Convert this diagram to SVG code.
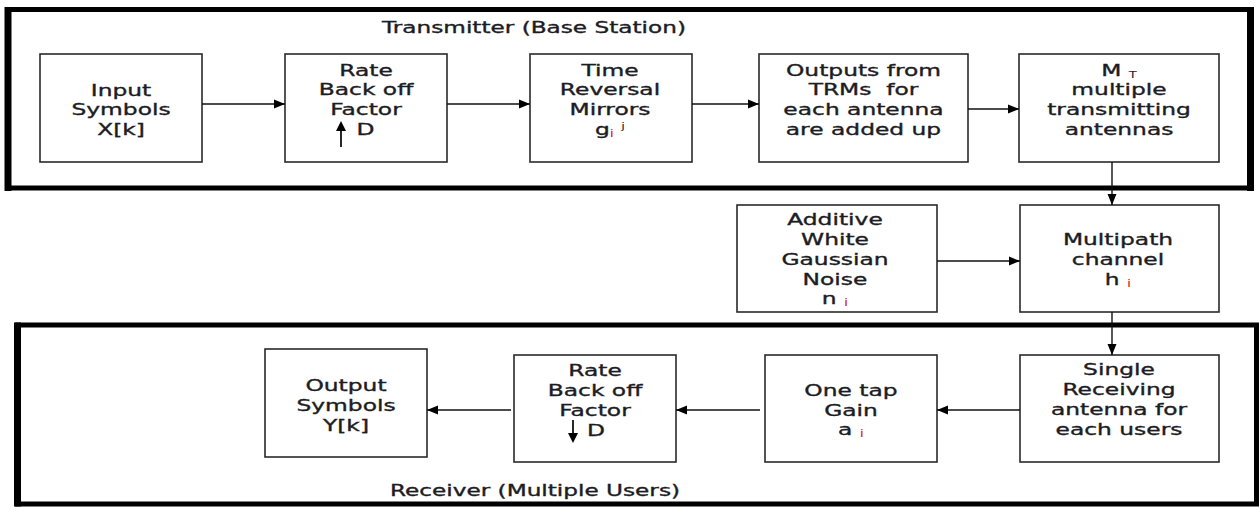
<svg xmlns="http://www.w3.org/2000/svg" width="1260" height="507" viewBox="0 0 1260 507">
<style>
.frame{fill:none;stroke:#000;stroke-width:5}
.side{stroke:#000;stroke-width:7}
.box{fill:#fff;stroke:#2a2a2a;stroke-width:1.6}
.t{font-family:"DejaVu Sans","Verdana",sans-serif;font-size:16px;fill:#1c1c24;stroke:#1c1c24;stroke-width:0.35;text-anchor:middle}
.sub{font-size:10px;fill:#d42020;stroke:none}
.sup{font-size:9px;fill:#1c1c24;stroke:none}
.c{stroke:#111;stroke-width:1.4;fill:none;marker-end:url(#ah)}
</style>
<defs>
<marker id="ah" markerUnits="userSpaceOnUse" markerWidth="12" markerHeight="10" refX="11" refY="5" orient="auto">
<path d="M0,0.5 L11,5 L0,9.5 z" fill="#000"/>
</marker>
</defs>
<rect width="1260" height="507" fill="#fff"/>

<g id="transmitter">
<rect class="frame" x="8" y="9.5" width="1242.5" height="178.5"/>
<line class="side" x1="8" y1="7" x2="8" y2="191"/>
<line class="side" x1="1250.5" y1="7" x2="1250.5" y2="191"/>
<text class="t" transform="translate(534,0) scale(1.45,1)"><tspan x="0" y="33">Transmitter (Base Station)</tspan></text>
</g>

<g id="receiver">
<rect class="frame" x="17.5" y="325" width="1239" height="179"/>
<line class="side" x1="17.5" y1="322.5" x2="17.5" y2="506.5"/>
<text class="t" transform="translate(535,0) scale(1.45,1)"><tspan x="0" y="496">Receiver (Multiple Users)</tspan></text>
</g>

<g id="input-symbols">
<rect class="box" x="40" y="54" width="162" height="108"/>
<text class="t" transform="translate(121,0) scale(1.46,1)"><tspan x="0" y="96">Input</tspan><tspan x="0" y="115">Symbols</tspan><tspan x="0" y="135">X[k]</tspan></text>
</g>

<g id="rate-backoff-tx">
<rect class="box" x="285" y="54" width="162" height="108"/>
<text class="t" transform="translate(366,0) scale(1.46,1)"><tspan x="0" y="76">Rate</tspan><tspan x="0" y="95">Back off</tspan><tspan x="0" y="115">Factor</tspan></text>
<line x1="341" y1="147" x2="341" y2="128" stroke="#111" stroke-width="1.8"/>
<path d="M336,131 L341,121 L346,131 z" fill="#000"/>
<text class="t" transform="translate(365.5,0) scale(1.46,1)"><tspan x="0" y="135">D</tspan></text>
</g>

<g id="trm">
<rect class="box" x="530" y="54" width="162" height="108"/>
<text class="t" transform="translate(610,0) scale(1.46,1)"><tspan x="0" y="76">Time</tspan><tspan x="0" y="95">Reversal</tspan><tspan x="0" y="115">Mirrors</tspan><tspan x="0" y="135">g<tspan class="sub" dy="2">i</tspan><tspan dy="-2"> </tspan><tspan class="sup" dy="-6">j</tspan></tspan></text>
</g>

<g id="outputs-added">
<rect class="box" x="759" y="54" width="209" height="108"/>
<text class="t" transform="translate(863.5,0) scale(1.46,1)" xml:space="preserve"><tspan x="0" y="76">Outputs from</tspan><tspan x="0" y="95">TRMs  for</tspan><tspan x="0" y="115">each antenna</tspan><tspan x="0" y="135">are added up</tspan></text>
</g>

<g id="tx-antennas">
<rect class="box" x="1019" y="54" width="200" height="108"/>
<text class="t" transform="translate(1119,0) scale(1.46,1)"><tspan x="0" y="76">M <tspan class="sup" dy="2">T</tspan></tspan><tspan x="0" y="95">multiple</tspan><tspan x="0" y="115">transmitting</tspan><tspan x="0" y="135">antennas</tspan></text>
</g>

<g id="awgn">
<rect class="box" x="737" y="205" width="200" height="107"/>
<text class="t" transform="translate(835,0) scale(1.46,1)"><tspan x="0" y="225">Additive</tspan><tspan x="0" y="245">White</tspan><tspan x="0" y="265">Gaussian</tspan><tspan x="0" y="285">Noise</tspan><tspan x="0" y="304">n <tspan class="sub" dy="2">i</tspan></tspan></text>
</g>

<g id="multipath">
<rect class="box" x="1020" y="205" width="199" height="107"/>
<text class="t" transform="translate(1118,0) scale(1.46,1)"><tspan x="0" y="245">Multipath</tspan><tspan x="0" y="265">channel</tspan><tspan x="0" y="285">h <tspan class="sub" dy="2">i</tspan></tspan></text>
</g>

<g id="single-rx">
<rect class="box" x="1020" y="355" width="199" height="107"/>
<text class="t" transform="translate(1119,0) scale(1.46,1)"><tspan x="0" y="375">Single</tspan><tspan x="0" y="395">Receiving</tspan><tspan x="0" y="415">antenna for</tspan><tspan x="0" y="435">each users</tspan></text>
</g>

<g id="one-tap">
<rect class="box" x="765" y="355" width="172" height="107"/>
<text class="t" transform="translate(851,0) scale(1.46,1)"><tspan x="0" y="396">One tap</tspan><tspan x="0" y="416">Gain</tspan><tspan x="0" y="435">a <tspan class="sub" dy="2">i</tspan></tspan></text>
</g>

<g id="rate-backoff-rx">
<rect class="box" x="514" y="355" width="162" height="107"/>
<text class="t" transform="translate(595,0) scale(1.46,1)"><tspan x="0" y="376">Rate</tspan><tspan x="0" y="396">Back off</tspan><tspan x="0" y="416">Factor</tspan></text>
<line x1="573" y1="420" x2="573" y2="436" stroke="#111" stroke-width="1.8"/>
<path d="M568,433 L573,443 L578,433 z" fill="#000"/>
<text class="t" transform="translate(596,0) scale(1.46,1)"><tspan x="0" y="436">D</tspan></text>
</g>

<g id="output-symbols">
<rect class="box" x="265" y="349" width="162" height="108"/>
<text class="t" transform="translate(346,0) scale(1.46,1)"><tspan x="0" y="391">Output</tspan><tspan x="0" y="411">Symbols</tspan><tspan x="0" y="431">Y[k]</tspan></text>
</g>

<g id="connectors">
<line class="c" x1="202" y1="104" x2="285" y2="104"/>
<line class="c" x1="447" y1="104" x2="530" y2="104"/>
<line class="c" x1="692" y1="104" x2="759" y2="104"/>
<line class="c" x1="968" y1="109" x2="1019" y2="109"/>
<line class="c" x1="1112" y1="162" x2="1112" y2="205"/>
<line class="c" x1="937" y1="261" x2="1020" y2="261"/>
<line class="c" x1="1112" y1="312" x2="1112" y2="355"/>
<line class="c" x1="1020" y1="410" x2="937" y2="410"/>
<line class="c" x1="760" y1="410" x2="676" y2="410"/>
<line class="c" x1="511" y1="410" x2="427" y2="410"/>
</g>
</svg>
